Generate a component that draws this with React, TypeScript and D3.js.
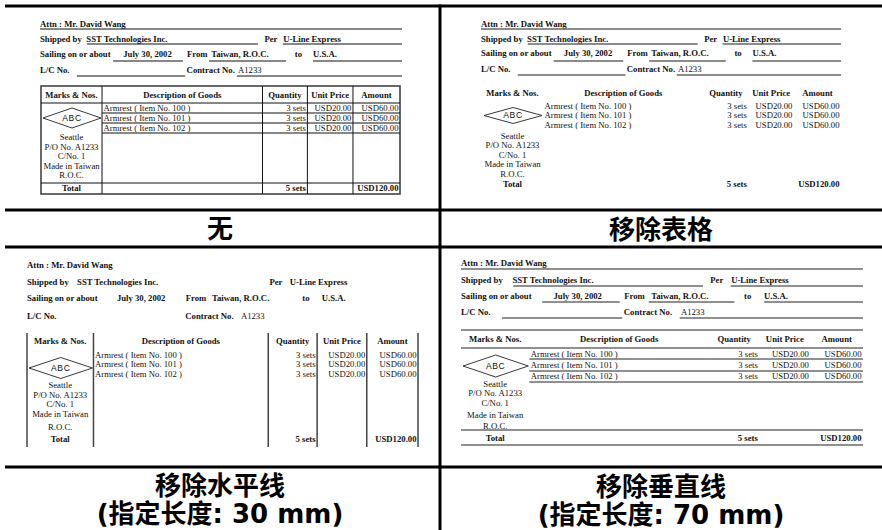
import React from "react";
import * as d3 from "d3";

// ---------- data ----------
const panelTitles = ["无", "移除表格", "移除水平线", "移除垂直线"];
const panelSubtitles = ["", "", "(指定长度: 30 mm)", "(指定长度: 70 mm)"];

const attnLine = ["Attn : Mr. David Wang"];
const shipRow = ["Shipped by", "SST Technologies Inc.", "Per", "U-Line Express"];
const sailRow = ["Sailing on or about", "July 30, 2002", "From", "Taiwan, R.O.C.", "to", "U.S.A."];
const lcRow = ["L/C No.", "Contract No.", "A1233"];

const columnHeaders = ["Marks & Nos.", "Description of Goods", "Quantity", "Unit Price", "Amount"];
const itemDescriptions = ["Armrest ( Item No. 100 )", "Armrest ( Item No. 101 )", "Armrest ( Item No. 102 )"];
const itemQuantities = ["3 sets", "3 sets", "3 sets"];
const itemUnitPrices = ["USD20.00", "USD20.00", "USD20.00"];
const itemAmounts = ["USD60.00", "USD60.00", "USD60.00"];
const shippingMark = ["ABC"];
const markLines = ["Seattle", "P/O No. A1233", "C/No. 1", "Made in Taiwan", "R.O.C."];
const totalRow = ["Total", "5 sets", "USD120.00"];

// ---------- layout (positions / styles) ----------
const W = 882;
const H = 530;
const SERIF = "'Liberation Serif', 'Times New Roman', serif";
const FS = 8.7;

const colFrac = [0, 0.17, 0.617, 0.742, 0.869, 1.0];
const shipFrac = [0, 0.128, 0.62, 0.672];
const sailFrac = [0, 0.23, 0.406, 0.473, 0.704, 0.754];
const lcFrac = [0, 0.405, 0.547];
const underlineFrac = [
  [[0, 1]],
  [[0.13, 0.602], [0.671, 1]],
  [[0.202, 0.395], [0.467, 0.68], [0.754, 1]],
  [[0.102, 0.401], [0.544, 1]],
];

type Panel = {
  x0: number; right: number; tL: number; tR: number;
  mode: "full" | "none" | "vertical" | "horizontal";
  ul: null | { c: string; w: number };
  tb: { c: string; w: number; oc: string; ow: number };
  rowsY: number[]; linesY: number[];
  tTop: number; hY: number; hBot: number;
  itemY: number[]; itemLineY: number[];
  abcY: number; dh: number; markY: number[];
  totTop: number; totY: number; tBot: number;
};

const panels: Panel[] = [
  {
    x0: 40, right: 402, tL: 41, tR: 400, mode: "full",
    ul: { c: "#111", w: 1 }, tb: { c: "#111", w: 1, oc: "#444", ow: 1.6 },
    rowsY: [24, 39, 54, 70], linesY: [29, 44, 61, 76],
    tTop: 86, hY: 95, hBot: 103, itemY: [108, 118, 128], itemLineY: [113, 123, 133],
    abcY: 118, dh: 10, markY: [137, 147, 156, 166, 175], totTop: 183, totY: 188, tBot: 194,
  },
  {
    x0: 481, right: 841, tL: 482, tR: 841, mode: "none",
    ul: { c: "#666", w: 1.7 }, tb: { c: "#111", w: 1, oc: "#444", ow: 1.6 },
    rowsY: [24, 39, 53, 69], linesY: [29, 44, 61, 75],
    tTop: 86, hY: 93, hBot: 103, itemY: [106, 115.5, 125], itemLineY: [],
    abcY: 115.5, dh: 8, markY: [136, 145.5, 155, 164.5, 174], totTop: 183, totY: 184, tBot: 194,
  },
  {
    x0: 27, right: 418, tL: 27, tR: 418, mode: "vertical",
    ul: null, tb: { c: "#444", w: 1.5, oc: "#555", ow: 1.6 },
    rowsY: [265, 282, 298, 316], linesY: [],
    tTop: 333, hY: 341, hBot: 348, itemY: [355, 364.5, 374], itemLineY: [],
    abcY: 368, dh: 10.5, markY: [385, 395, 404.5, 414, 427], totTop: 433, totY: 439, tBot: 447,
  },
  {
    x0: 461, right: 863, tL: 461, tR: 863, mode: "horizontal",
    ul: { c: "#222", w: 1.2 }, tb: { c: "#222", w: 1.2, oc: "#333", ow: 1.3 },
    rowsY: [263, 280, 296, 312], linesY: [269, 286, 302, 318],
    tTop: 330, hY: 339, hBot: 348, itemY: [354, 365, 376], itemLineY: [359, 371, 382],
    abcY: 366, dh: 11, markY: [384, 393.5, 403, 415, 426], totTop: 430, totY: 438, tBot: 445,
  },
];

const titleBoxes = [
  { cx: 220, ty: 229, sy: 0 },
  { cx: 661, ty: 230, sy: 0 },
  { cx: 220, ty: 486, sy: 514 },
  { cx: 661, ty: 487, sy: 515 },
];

function T(props: { x: number; y: number; bold?: boolean; anchor?: string; size?: number; family?: string; children: React.ReactNode; ls?: number }) {
  return (
    <text
      x={props.x}
      y={props.y}
      dy="0.34em"
      textAnchor={(props.anchor as any) || "start"}
      fontFamily={props.family || SERIF}
      fontWeight={props.bold ? 700 : 400}
      fontSize={props.size || FS}
      letterSpacing={props.ls || 0}
      fill="#111"
    >
      {props.children}
    </text>
  );
}

function Doc({ p }: { p: Panel }) {
  const fx = d3.scaleLinear().domain([0, 1]).range([p.x0, p.right]);
  const cx = d3.scaleLinear().domain([0, 1]).range([p.tL, p.tR]);
  const cols = colFrac.map((f) => cx(f));
  const mid = (i: number) => (cols[i] + cols[i + 1]) / 2;
  const els: React.ReactNode[] = [];

  // header fields
  els.push(<T key="attn" x={fx(0)} y={p.rowsY[0]} bold>{attnLine[0]}</T>);
  shipRow.forEach((s, i) => els.push(<T key={"sh" + i} x={fx(shipFrac[i])} y={p.rowsY[1]} bold>{s}</T>));
  sailRow.forEach((s, i) => els.push(<T key={"sa" + i} x={fx(sailFrac[i])} y={p.rowsY[2]} bold>{s}</T>));
  lcRow.forEach((s, i) => els.push(<T key={"lc" + i} x={fx(lcFrac[i])} y={p.rowsY[3]} bold={i < 2}>{s}</T>));

  if (p.ul) {
    underlineFrac.forEach((segs, r) =>
      segs.forEach((sg, j) =>
        els.push(
          <line key={`ul${r}-${j}`} x1={fx(sg[0])} x2={fx(sg[1])} y1={p.linesY[r]} y2={p.linesY[r]} stroke={p.ul!.c} strokeWidth={p.ul!.w} />
        )
      )
    );
  }

  // table lines
  const tb = p.tb;
  if (p.mode === "full") {
    els.push(<rect key="box" x={cols[0]} y={p.tTop} width={cols[5] - cols[0]} height={p.tBot - p.tTop} fill="none" stroke={tb.oc} strokeWidth={tb.ow} />);
    [1, 2, 3, 4].forEach((i) => els.push(<line key={"vc" + i} x1={cols[i]} x2={cols[i]} y1={p.tTop} y2={p.tBot} stroke={tb.c} strokeWidth={tb.w} />));
    [p.hBot, p.totTop].forEach((y, i) => els.push(<line key={"hh" + i} x1={cols[0]} x2={cols[5]} y1={y} y2={y} stroke={tb.c} strokeWidth={tb.w} />));
    p.itemLineY.forEach((y, i) => els.push(<line key={"il" + i} x1={cols[1]} x2={cols[5]} y1={y} y2={y} stroke={tb.c} strokeWidth={tb.w} />));
  } else if (p.mode === "vertical") {
    cols.forEach((x, i) => els.push(<line key={"vc" + i} x1={x} x2={x} y1={p.tTop} y2={p.tBot} stroke={tb.c} strokeWidth={tb.w} />));
  } else if (p.mode === "horizontal") {
    [p.tTop, p.hBot, p.totTop, p.tBot].forEach((y, i) => els.push(<line key={"hh" + i} x1={cols[0]} x2={cols[5]} y1={y} y2={y} stroke={tb.c} strokeWidth={tb.w} />));
    p.itemLineY.forEach((y, i) => els.push(<line key={"il" + i} x1={cols[1]} x2={cols[5]} y1={y} y2={y} stroke={tb.c} strokeWidth={tb.w} />));
  }

  // column headers
  columnHeaders.forEach((h, i) => els.push(<T key={"ch" + i} x={mid(i)} y={p.hY} anchor="middle" bold>{h}</T>));

  // items
  itemDescriptions.forEach((d, i) => {
    els.push(<T key={"id" + i} x={cols[1] + 1.5} y={p.itemY[i]}>{d}</T>);
    els.push(<T key={"iq" + i} x={cols[3] - 1.5} y={p.itemY[i]} anchor="end">{itemQuantities[i]}</T>);
    els.push(<T key={"iu" + i} x={cols[4] - 1.5} y={p.itemY[i]} anchor="end">{itemUnitPrices[i]}</T>);
    els.push(<T key={"ia" + i} x={cols[5] - 1.5} y={p.itemY[i]} anchor="end">{itemAmounts[i]}</T>);
  });

  // shipping mark diamond
  const dl = cols[0] + 2, dr = cols[1] - 1, dc = (dl + dr) / 2;
  const diamond = d3.line()([
    [dl, p.abcY], [dc, p.abcY - p.dh], [dr, p.abcY], [dc, p.abcY + p.dh], [dl, p.abcY],
  ]) as string;
  els.push(<path key="dia" d={diamond} fill="none" stroke="#222" strokeWidth={0.9} />);
  els.push(<T key="abc" x={dc} y={p.abcY} anchor="middle" family="'Liberation Sans', Arial, sans-serif" size={8.6} ls={0.6}>{shippingMark[0]}</T>);
  markLines.forEach((m, i) => els.push(<T key={"mk" + i} x={mid(0)} y={p.markY[i]} anchor="middle">{m}</T>));

  // totals
  els.push(<T key="tt0" x={mid(0)} y={p.totY} anchor="middle" bold>{totalRow[0]}</T>);
  els.push(<T key="tt1" x={cols[3] - 1.5} y={p.totY} anchor="end" bold>{totalRow[1]}</T>);
  els.push(<T key="tt2" x={cols[5] - 1.5} y={p.totY} anchor="end" bold>{totalRow[2]}</T>);

  return <g>{els}</g>;
}

export default function App() {
  const frameY = [6, 210, 247, 467];
  return (
    <svg width={W} height={H} viewBox={`0 0 ${W} ${H}`} style={{ position: "absolute", left: 0, top: 0, background: "#fff" }}>
      <rect x={0} y={0} width={W} height={H} fill="#fff" />
      {panels.map((p, i) => <Doc key={i} p={p} />)}
      {frameY.map((y, i) => <line key={"f" + i} x1={5} x2={W} y1={y} y2={y} stroke="#000" strokeWidth={3} />)}
      <line x1={440} x2={440} y1={4.5} y2={H} stroke="#000" strokeWidth={3} />
      {titleBoxes.map((b, i) => (
        <g key={"tl" + i}>
          <text x={b.cx} y={b.ty} dy="0.36em" textAnchor="middle" fontFamily="'DejaVu Sans', 'Noto Sans CJK SC', sans-serif" fontWeight={700} fontSize={26} fill="#000">
            {panelTitles[i]}
          </text>
          {panelSubtitles[i] && (
            <text x={b.cx} y={b.sy} dy="0.36em" textAnchor="middle" fontFamily="'DejaVu Sans', 'Noto Sans CJK SC', sans-serif" fontWeight={700} fontSize={26} fill="#000">
              {panelSubtitles[i]}
            </text>
          )}
        </g>
      ))}
    </svg>
  );
}
